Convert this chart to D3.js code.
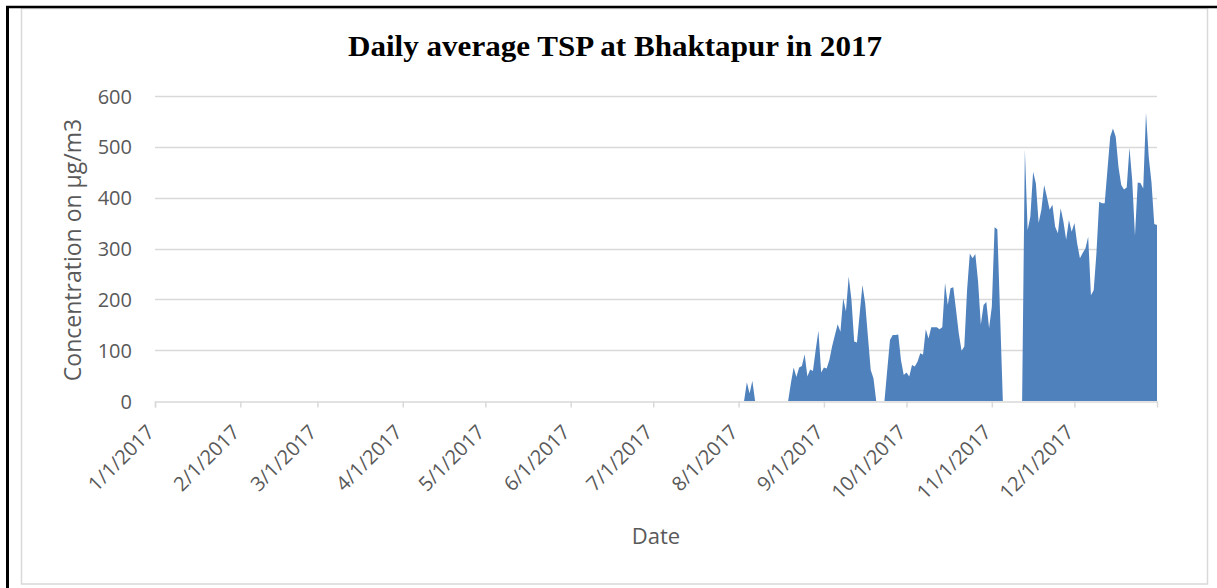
<!DOCTYPE html>
<html>
<head>
<meta charset="utf-8">
<script src="https://cdn.jsdelivr.net/npm/d3@7/dist/d3.min.js"></script>
<style>
  html, body { margin: 0; padding: 0; background: #fff; }
  svg { display: block; }
</style>
</head>
<body>
<svg id="chart" width="1217" height="588"></svg>
<script>
// ---- data ----
const chartTitle = "Daily average TSP at Bhaktapur in 2017";
const yAxisTitle = "Concentration on µg/m3";
const xAxisTitle = "Date";
const yearStart = "2017-01-01";
const yearEnd = "2017-12-31";
const seriesStart = "2017-08-01"; // first day of the values below (earlier days have no data)
const tspValues = [
  0, 0, 0, 37, 15, 40, 0, 0, 0, 0, 0, 0, 0, 0, 0, 0, 0, 0, 0,
  35, 66, 47, 66, 69, 92, 48, 62, 59, 100, 138, 56, 66, 64, 81, 108, 130, 151, 136, 202,
  176, 245, 199, 117, 115, 172, 228, 192, 126, 61, 45, 0, 0, 0, 0,
  61, 120, 130, 130, 131, 80, 51, 56, 48, 71, 68, 77, 94, 91, 141, 123, 145, 145, 145,
  141, 145, 232, 189, 222, 224, 179, 133, 99, 107, 218, 290, 281, 289, 235, 150, 189,
  195, 143, 186, 342, 338, 170, 0, 0, 0, 0, 0, 0, 0, 0,
  495, 336, 363, 451, 428, 350, 376, 425, 402, 376, 386, 343, 330, 379, 353, 317, 356,
  333, 350, 310, 281, 291, 300, 323, 208, 218, 291, 392, 389, 389, 455, 520, 536, 520,
  461, 425, 416, 420, 498, 434, 325, 430, 429, 418, 567, 480, 430, 348, 346
];
const yTicks = [0, 100, 200, 300, 400, 500, 600];
const monthTickLabels = ["1/1/2017", "2/1/2017", "3/1/2017", "4/1/2017", "5/1/2017", "6/1/2017",
  "7/1/2017", "8/1/2017", "9/1/2017", "10/1/2017", "11/1/2017", "12/1/2017"];

// ---- drawing ----
(function () {
const parse = d3.timeParse("%Y-%m-%d");
const t0 = parse(yearStart), t1 = parse(yearEnd), s0 = parse(seriesStart);
const series = tspValues.map((v, i) => ({ date: d3.timeDay.offset(s0, i), value: v }));
const monthDates = monthTickLabels.map(s => d3.timeParse("%m/%d/%Y")(s));

const svg = d3.select("#chart");
const gray = "#595959", grid = "#d9d9d9";
const pLeft = 155, pRight = 1157, pTop = 96, pBottom = 401;

const x = d3.scaleTime().domain([t0, t1]).range([pLeft, pRight]);
const y = d3.scaleLinear().domain([0, 600]).range([pBottom, pTop]);

// outer frame
svg.append("rect").attr("x", 0).attr("y", 0).attr("width", 1217).attr("height", 588).attr("fill", "#fff");
svg.append("rect").attr("x", 21.5).attr("y", 8.5).attr("width", 1186).attr("height", 575.5)
  .attr("fill", "none").attr("stroke", grid).attr("stroke-width", 1.5);
svg.append("line").attr("x1", 7.5).attr("x2", 7.5).attr("y1", 6).attr("y2", 588)
  .attr("stroke", "#000").attr("stroke-width", 3);
svg.append("line").attr("x1", 6).attr("x2", 1217).attr("y1", 7).attr("y2", 7)
  .attr("stroke", "#000").attr("stroke-width", 2.5);

// gridlines
svg.append("g").selectAll("line").data(yTicks.filter(d => d > 0)).join("line")
  .attr("x1", pLeft).attr("x2", pRight)
  .attr("y1", d => Math.round(y(d)) + 0.5).attr("y2", d => Math.round(y(d)) + 0.5)
  .attr("stroke", grid).attr("stroke-width", 1.5);

// area
const area = d3.area().x(d => x(d.date)).y0(y(0)).y1(d => y(d.value));
svg.append("path").datum(series).attr("d", area).attr("fill", "#4f81bd");

// x axis
const xAxis = d3.axisBottom(x).tickValues(monthDates).tickSize(6).tickFormat((d, i) => monthTickLabels[i]);
const gx = svg.append("g").attr("transform", `translate(0,${Math.round(pBottom) + 0.5})`).call(xAxis);
gx.select(".domain").attr("stroke", grid).attr("stroke-width", 1.5);
gx.selectAll(".tick line").attr("stroke", grid).attr("stroke-width", 1.5);
gx.selectAll(".tick text")
  .attr("font-family", "'Open Sans', sans-serif").attr("font-size", 20).attr("fill", gray)
  .attr("text-anchor", "end").attr("dy", null).attr("y", null)
  .attr("transform", "translate(0,32) rotate(-45)");

// y axis labels
const yAxis = d3.axisLeft(y).tickValues(yTicks).tickSize(0).tickPadding(0);
const gy = svg.append("g").attr("transform", `translate(132,0)`).call(yAxis);
gy.select(".domain").remove();
gy.selectAll(".tick text")
  .attr("font-family", "'Open Sans', sans-serif").attr("font-size", 20).attr("fill", gray)
  .attr("x", 0).attr("dy", "0.35em");

// titles
svg.append("text").attr("x", 615).attr("y", 56).attr("text-anchor", "middle")
  .attr("font-family", "'Liberation Serif', serif").attr("font-weight", "bold").attr("font-size", 29)
  .attr("textLength", 534).attr("lengthAdjust", "spacingAndGlyphs")
  .attr("fill", "#000").text(chartTitle);
svg.append("text").attr("transform", "translate(81,250) rotate(-90)").attr("text-anchor", "middle")
  .attr("font-family", "'Open Sans', sans-serif").attr("font-size", 23).attr("fill", gray)
  .text(yAxisTitle);
svg.append("text").attr("x", 656).attr("y", 544).attr("text-anchor", "middle")
  .attr("font-family", "'Open Sans', sans-serif").attr("font-size", 22).attr("fill", gray)
  .text(xAxisTitle);
})();
</script>
</body>
</html>
